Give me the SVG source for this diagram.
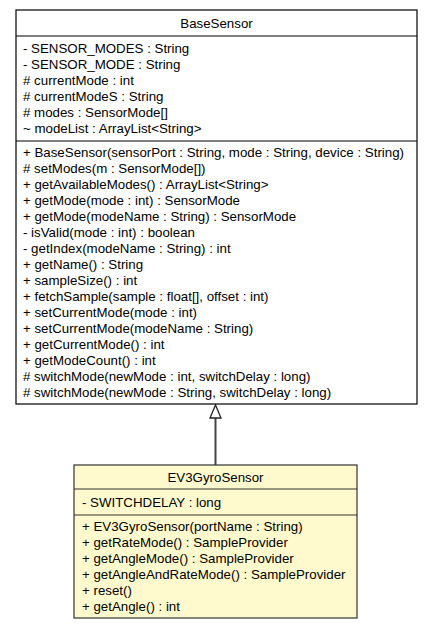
<svg xmlns="http://www.w3.org/2000/svg" width="432" height="629" viewBox="0 0 432 629">
<style>
text{font-family:"Liberation Sans",Arial,sans-serif;font-size:13.3px;fill:#000}
.c{text-anchor:middle}
.base rect,.base line{stroke:#000;stroke-width:1.2}
.ev3 rect,.ev3 line{stroke:#333;stroke-width:1.2}
</style>
<rect width="432" height="629" fill="#fff"/>
<g id="connectors">
<line x1="215.5" y1="418" x2="215.5" y2="465" stroke="#444" stroke-width="2"/>
<polygon points="215.5,405 210,418 221,418" fill="#fff" stroke="#222" stroke-width="1.3"/>
</g>
<g id="BaseSensor" class="base">
<rect x="16" y="10" width="401" height="394" fill="#fff"/>
<line x1="16" y1="36" x2="417" y2="36"/>
<line x1="16" y1="141" x2="417" y2="141"/>
<text class="c" x="216.5" y="28">BaseSensor</text>
<text x="23" y="52.5">- SENSOR_MODES : String</text>
<text x="23" y="68.5">- SENSOR_MODE : String</text>
<text x="23" y="84.5"># currentMode : int</text>
<text x="23" y="100.5"># currentModeS : String</text>
<text x="23" y="116.5"># modes : SensorMode[]</text>
<text x="23" y="132.5">~ modeList : ArrayList&lt;String&gt;</text>
<text x="23" y="157">+ BaseSensor(sensorPort : String, mode : String, device : String)</text>
<text x="23" y="173"># setModes(m : SensorMode[])</text>
<text x="23" y="189">+ getAvailableModes() : ArrayList&lt;String&gt;</text>
<text x="23" y="205">+ getMode(mode : int) : SensorMode</text>
<text x="23" y="221">+ getMode(modeName : String) : SensorMode</text>
<text x="23" y="237">- isValid(mode : int) : boolean</text>
<text x="23" y="253">- getIndex(modeName : String) : int</text>
<text x="23" y="269">+ getName() : String</text>
<text x="23" y="285">+ sampleSize() : int</text>
<text x="23" y="301">+ fetchSample(sample : float[], offset : int)</text>
<text x="23" y="317">+ setCurrentMode(mode : int)</text>
<text x="23" y="333">+ setCurrentMode(modeName : String)</text>
<text x="23" y="349">+ getCurrentMode() : int</text>
<text x="23" y="365">+ getModeCount() : int</text>
<text x="23" y="381"># switchMode(newMode : int, switchDelay : long)</text>
<text x="23" y="397"># switchMode(newMode : String, switchDelay : long)</text>
</g>
<g id="EV3GyroSensor" class="ev3">
<rect x="74" y="465" width="283" height="153" fill="#fffacd"/>
<line x1="74" y1="489" x2="357" y2="489"/>
<line x1="74" y1="515" x2="357" y2="515"/>
<text class="c" x="215.5" y="481.5">EV3GyroSensor</text>
<text x="82" y="506.5">- SWITCHDELAY : long</text>
<text x="82" y="531">+ EV3GyroSensor(portName : String)</text>
<text x="82" y="547">+ getRateMode() : SampleProvider</text>
<text x="82" y="563">+ getAngleMode() : SampleProvider</text>
<text x="82" y="579">+ getAngleAndRateMode() : SampleProvider</text>
<text x="82" y="595">+ reset()</text>
<text x="82" y="611">+ getAngle() : int</text>
</g>
</svg>
